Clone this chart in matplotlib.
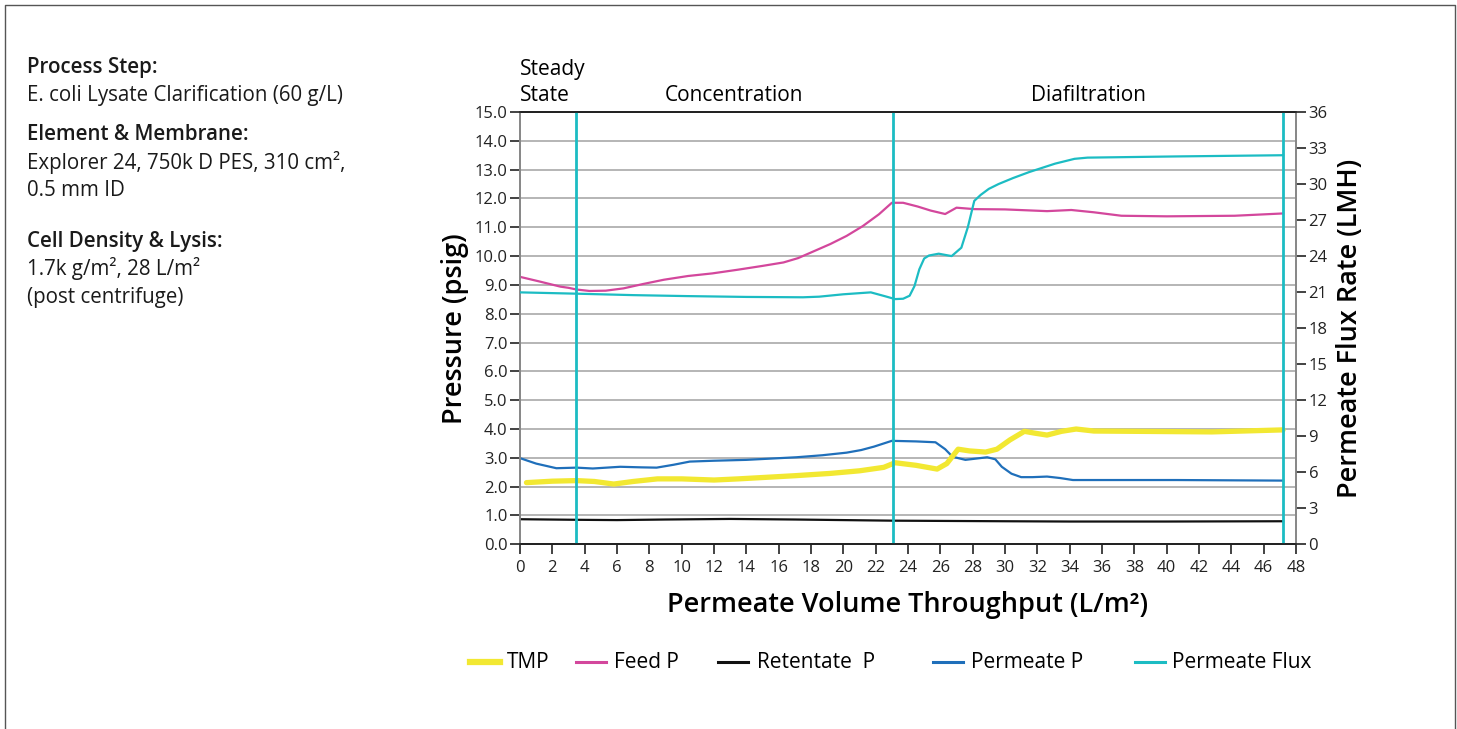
import matplotlib
matplotlib.use("Agg")
import matplotlib.pyplot as plt
from matplotlib.lines import Line2D

plt.rcParams['font.family'] = ['Open Sans', 'DejaVu Sans']

# ---------------- data ----------------
tmp_x = [0.4, 2.0, 3.5, 4.6, 5.8, 7.0, 8.5, 10.0, 12.0, 13.5, 15.1, 17.0, 19.2, 21.0, 22.5, 23.2,
         24.5, 25.8, 26.4, 27.1, 27.8, 28.8, 29.5, 30.3, 31.2, 31.8, 32.6, 33.5, 34.4, 35.5, 38.0, 42.8, 47.2]
tmp_y = [2.14, 2.19, 2.21, 2.18, 2.09, 2.18, 2.27, 2.27, 2.23, 2.27, 2.32, 2.38, 2.46, 2.55, 2.67, 2.83,
         2.74, 2.61, 2.80, 3.30, 3.24, 3.20, 3.30, 3.62, 3.92, 3.86, 3.79, 3.92, 4.00, 3.93, 3.92, 3.90, 3.97]

feed_x = [0, 1.2, 2.5, 3.0, 3.5, 4.3, 5.3, 6.4, 7.6, 8.9, 10.4, 11.9, 13.5, 15.0, 16.3, 17.2, 18.1,
          19.2, 20.2, 21.2, 22.2, 23.0, 23.7, 24.6, 25.4, 26.3, 27.0, 28.1, 30.0, 32.6, 34.1, 35.5,
          37.2, 40.0, 44.2, 47.2]
feed_y = [9.28, 9.12, 8.94, 8.90, 8.84, 8.79, 8.80, 8.88, 9.03, 9.18, 9.31, 9.40, 9.53, 9.66, 9.78,
          9.93, 10.15, 10.42, 10.70, 11.04, 11.45, 11.85, 11.85, 11.72, 11.58, 11.46, 11.68, 11.63,
          11.62, 11.56, 11.60, 11.52, 11.40, 11.38, 11.40, 11.48]

ret_x = [0, 3.5, 6.0, 9.0, 13.0, 17.0, 23.0, 30.0, 34.0, 40.0, 47.2]
ret_y = [0.87, 0.85, 0.84, 0.86, 0.88, 0.86, 0.82, 0.80, 0.79, 0.79, 0.80]

perm_x = [0, 1.0, 2.25, 3.5, 4.5, 6.2, 7.5, 8.45, 9.5, 10.5, 12.0, 14.0, 17.1, 18.7, 20.2, 21.1,
          21.9, 23.0, 24.5, 25.7, 26.3, 26.75, 27.55, 28.9, 29.4, 29.8, 30.4, 31.0, 31.7, 32.6, 33.4,
          34.2, 40.6, 47.2]
perm_y = [2.99, 2.80, 2.64, 2.66, 2.63, 2.69, 2.67, 2.66, 2.76, 2.87, 2.90, 2.93, 3.02, 3.09, 3.18,
          3.27, 3.39, 3.59, 3.57, 3.54, 3.30, 3.04, 2.93, 3.02, 2.95, 2.69, 2.45, 2.33, 2.33, 2.35,
          2.30, 2.23, 2.23, 2.21]

flux_x = [0, 3.5, 7.0, 10.3, 14.0, 17.5, 18.5, 20.0, 21.7, 22.6, 23.2, 23.7, 24.1, 24.4, 24.7,
          25.0, 25.3, 25.9, 26.7, 27.3, 27.7, 28.1, 28.5, 29.0, 29.6, 30.5, 31.5, 33.1, 34.3, 35.1,
          40.6, 47.2]
flux_y = [20.98, 20.87, 20.75, 20.67, 20.60, 20.57, 20.62, 20.82, 20.98, 20.65, 20.42, 20.45,
          20.7, 21.5, 22.9, 23.8, 24.05, 24.2, 24.0, 24.7, 26.4, 28.6, 29.1, 29.6, 30.0, 30.5, 31.0,
          31.7, 32.1, 32.2, 32.3, 32.4]

phase_bounds = [3.45, 23.07, 47.2]
phase_names = ["Steady\nState", "Concentration", "Diafiltration"]

legend_labels = ["TMP", "Feed P", "Retentate  P", "Permeate P", "Permeate Flux"]

x_ticks = list(range(0, 49, 2))
p_ticks = [i * 1.0 for i in range(16)]
f_ticks = list(range(0, 37, 3))

info_lines = [
    ("Process Step:", True),
    ("E. coli Lysate Clarification (60 g/L)", False),
    ("Element & Membrane:", True),
    ("Explorer 24, 750k D PES, 310 cm², ", False),
    ("0.5 mm ID", False),
    ("Cell Density & Lysis:", True),
    ("1.7k g/m², 28 L/m²", False),
    ("(post centrifuge)", False),
]
info_y_px = [67, 95, 135, 163, 191, 241, 269, 297]

# ---------------- colours ----------------
C_TMP = "#f2e832"
C_FEED = "#d3479c"
C_RET = "#111111"
C_PERM = "#1f6fba"
C_FLUX = "#1cbcc3"

W, H = 1457, 729
fig = plt.figure(figsize=(W / 100, H / 100), dpi=100)

def fx(px):
    return px / W

def fy(py):
    return 1 - py / H

ax = fig.add_axes([fx(520), fy(544.3), fx(1296) - fx(520), fy(112) - fy(544.3)])
ax2 = ax.twinx()

ax.set_xlim(0, 48)
ax.set_ylim(0, 15)
ax2.set_ylim(0, 36)

ax.set_yticks(p_ticks)
ax.set_yticklabels([f"{v:.1f}" for v in p_ticks])
ax.set_xticks(x_ticks)
ax2.set_yticks(f_ticks)

ax.grid(axis='y', color="#b0b0b0", linewidth=1.3)
ax.set_axisbelow(True)

for a in (ax, ax2):
    a.spines["left"].set_color("#888888")
    a.spines["right"].set_color("#888888")
    a.spines["top"].set_color("#222222")
    a.spines["bottom"].set_color("#222222")
    for s in a.spines.values():
        s.set_linewidth(1.3)

ax.tick_params(axis='x', direction='out', length=7, width=1.2, colors="#222222", labelsize=12, pad=4)
ax.tick_params(axis='y', direction='out', length=7, width=1.2, colors="#222222", labelsize=12, pad=2)
ax2.tick_params(axis='y', direction='out', length=7, width=1.2, colors="#222222", labelsize=12, pad=2)

# data lines
ax.plot(ret_x, ret_y, color=C_RET, lw=1.6, zorder=3)
ax.plot(perm_x, perm_y, color=C_PERM, lw=1.6, zorder=3)
ax.plot(tmp_x, tmp_y, color=C_TMP, lw=3.8, zorder=4, solid_capstyle='round')
ax.plot(feed_x, feed_y, color=C_FEED, lw=1.6, zorder=3)
ax2.plot(flux_x, flux_y, color=C_FLUX, lw=1.6, zorder=3)

for b in phase_bounds:
    ax.axvline(b, color=C_FLUX, lw=2, zorder=5)

# phase labels
ax.text(0, 15.2, phase_names[0], ha='left', va='bottom', fontsize=15, linespacing=1.3)
ax.text((phase_bounds[0] + phase_bounds[1]) / 2, 15.2, phase_names[1], ha='center', va='bottom', fontsize=15)
ax.text((phase_bounds[1] + phase_bounds[2]) / 2, 15.2, phase_names[2], ha='center', va='bottom', fontsize=15)

ax.set_ylabel("Pressure (psig)", fontsize=19.5, fontweight='semibold', labelpad=4)
ax2.set_ylabel("Permeate Flux Rate (LMH)", fontsize=19.5, fontweight='semibold', labelpad=6)
ax.set_xlabel("Permeate Volume Throughput (L/m²)", fontsize=19.5, fontweight='semibold', labelpad=11)

# left info text
for (t, bold), py in zip(info_lines, info_y_px):
    fig.text(fx(27), fy(py), t, ha='left', va='center', fontsize=14.8,
             fontweight='semibold' if bold else 'normal', color="#1a1a1a")

# legend (manual)
leg_pos = [(470, 507), (576, 614), (718, 757), (933, 971), (1135, 1172)]
leg_cols = [C_TMP, C_FEED, C_RET, C_PERM, C_FLUX]
leg_w = [4.5, 2.2, 2.2, 2.2, 2.2]
for (lx, tx), c, lab, lw in zip(leg_pos, leg_cols, legend_labels, leg_w):
    fig.add_artist(Line2D([fx(lx), fx(lx + 30)], [fy(662), fy(662)], color=c, lw=lw,
                          transform=fig.transFigure))
    fig.text(fx(tx), fy(662), lab, ha='left', va='center', fontsize=15)

# outer frame (left, top, right)
fig.add_artist(Line2D([fx(5), fx(5), fx(1455), fx(1455)], [0, fy(5), fy(5), 0],
                      color="#555555", lw=1.0, transform=fig.transFigure))

fig.savefig("out.png", dpi=100)
